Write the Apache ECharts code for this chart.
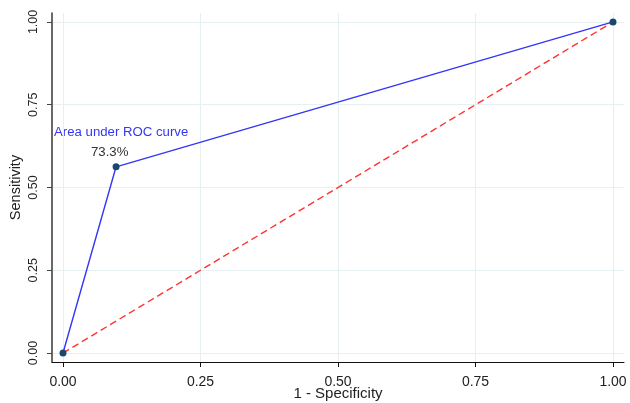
<!DOCTYPE html>
<html><head><meta charset="utf-8">
<script src="https://cdn.jsdelivr.net/npm/echarts@6/dist/echarts.min.js"></script>
<style>html,body{margin:0;padding:0;background:#fff}#c{width:630px;height:403px}</style>
</head><body><div id="c"></div>
<script>
const rocX = [0, 0.0965, 1];
const rocY = [0, 0.5625, 1];
const refX = [0, 1];
const refY = [0, 1];
const tickVals = [0, 0.25, 0.5, 0.75, 1];
const tickLabels = ['0.00', '0.25', '0.50', '0.75', '1.00'];
const aucTitle = 'Area under ROC curve';
const aucText = '73.3%';
const xTitle = '1 - Specificity';
const yTitle = 'Sensitivity';

const font = '"Liberation Sans", Arial, sans-serif';
const chart = echarts.init(document.getElementById('c'));
const fmt = v => tickLabels[tickVals.findIndex(t => Math.abs(t - v) < 1e-9)] || '';
const gridLines = [];
tickVals.forEach(v => { gridLines.push({xAxis: v}); gridLines.push({yAxis: v}); });

chart.setOption({
  animation: false,
  grid: {left: 52, right: 6, top: 13, bottom: 41, outerBoundsMode: 'none', containLabel: false},
  xAxis: {
    type: 'value', min: -0.02, max: 1.02,
    name: xTitle, nameLocation: 'middle', nameGap: 24, nameMoveOverlap: false,
    nameTextStyle: {fontFamily: font, fontSize: 15, color: '#222'},
    axisLine: {show: true, onZero: false, lineStyle: {color: '#111', width: 1}},
    axisTick: {show: true, customValues: tickVals, length: 5, lineStyle: {color: '#111'}},
    axisLabel: {customValues: tickVals, formatter: fmt, fontFamily: font, fontSize: 14, color: '#222', margin: 13},
    splitLine: {show: false}
  },
  yAxis: {
    type: 'value', min: -0.027, max: 1.027,
    name: yTitle, nameLocation: 'middle', nameGap: 29, nameMoveOverlap: false,
    nameTextStyle: {fontFamily: font, fontSize: 14.5, color: '#222'},
    axisLine: {show: true, onZero: false, lineStyle: {color: '#444', width: 1.6}},
    axisTick: {show: true, customValues: tickVals, length: 5, lineStyle: {color: '#444'}},
    axisLabel: {customValues: tickVals, formatter: fmt, rotate: 90, fontFamily: font, fontSize: 12.5, color: '#222', margin: 12},
    splitLine: {show: false}
  },
  series: [
    {
      type: 'line', data: refX.map((x, i) => [x, refY[i]]),
      symbol: 'none', lineStyle: {color: '#ff3333', width: 1.4, type: [7, 4]},
      markLine: {
        silent: true, symbol: 'none', label: {show: false},
        lineStyle: {color: '#e6eff1', width: 1, type: 'solid'},
        data: gridLines, z: 0
      },
      z: 3
    },
    {
      type: 'line', data: rocX.map((x, i) => [x, rocY[i]]),
      symbol: 'circle', symbolSize: 7,
      itemStyle: {color: '#1a476f'},
      lineStyle: {color: '#3535f5', width: 1.4},
      z: 4
    }
  ],
  graphic: [
    {type: 'text', x: 54, y: 133, scaleX: 1.1, style: {text: aucTitle, fontFamily: font, fontSize: 12, fill: '#3535f5', verticalAlign: 'middle'}},
    {type: 'text', x: 91, y: 153, scaleX: 1.1, style: {text: aucText, fontFamily: font, fontSize: 12, fill: '#333', verticalAlign: 'middle'}}
  ]
});
</script></body></html>
